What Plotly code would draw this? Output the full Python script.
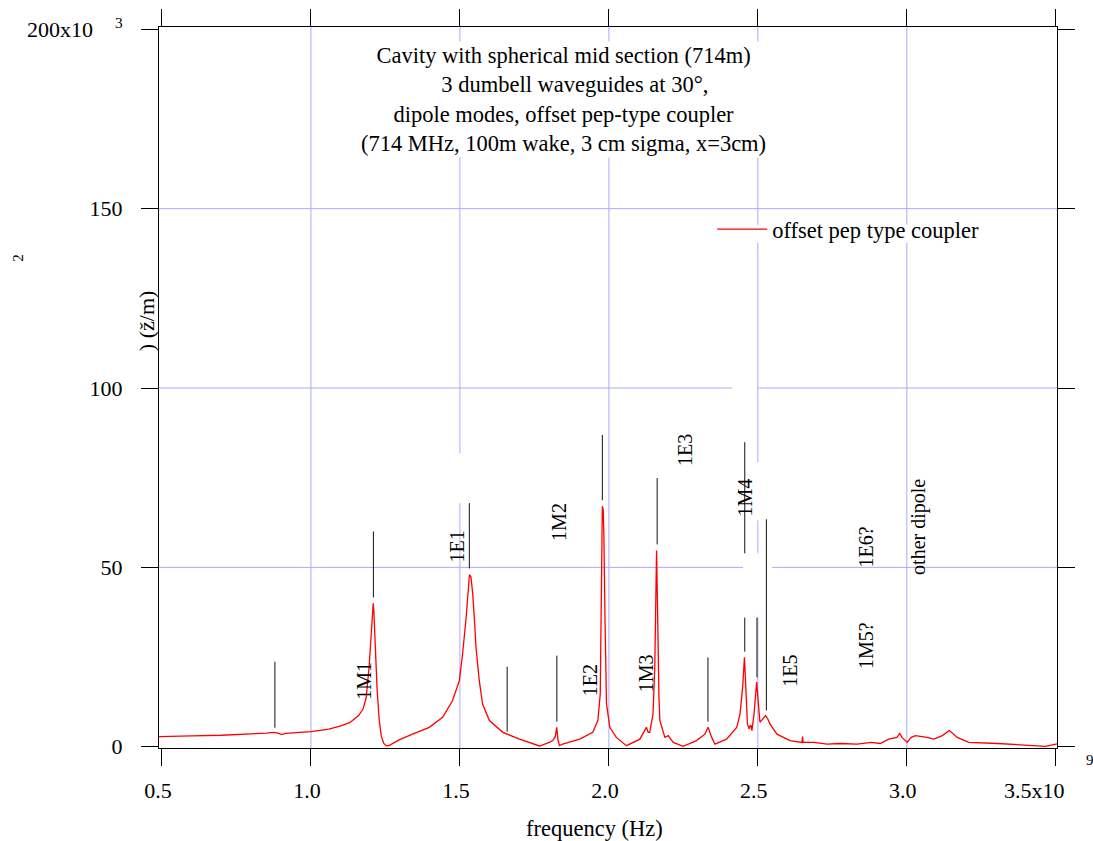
import plotly.graph_objects as go

# ---------------- data ----------------
freq_ghz = [0.49, 0.50, 0.60, 0.70, 0.79, 0.85, 0.876, 0.89, 0.901, 0.915, 0.95, 1.00, 1.06, 1.10,
            1.13, 1.16, 1.175, 1.185, 1.195, 1.200, 1.204, 1.207, 1.209, 1.211, 1.214, 1.218, 1.222,
            1.229, 1.236, 1.244, 1.252, 1.262, 1.275, 1.296, 1.341, 1.397, 1.442, 1.475, 1.498,
            1.509, 1.521, 1.528, 1.532, 1.537, 1.543, 1.549, 1.554, 1.565, 1.576, 1.599, 1.644,
            1.70, 1.767, 1.80, 1.812, 1.820, 1.825, 1.829, 1.834, 1.845, 1.902, 1.946, 1.963,
            1.971, 1.975, 1.978, 1.981, 1.983, 1.987, 1.992, 2.003, 2.025, 2.059, 2.104, 2.126,
            2.132, 2.137, 2.148, 2.154, 2.157, 2.160, 2.162, 2.165, 2.168, 2.171, 2.188, 2.199,
            2.216, 2.249, 2.294, 2.322, 2.333, 2.345, 2.356, 2.395, 2.429, 2.440, 2.449, 2.455,
            2.460, 2.465, 2.471, 2.474, 2.477, 2.480, 2.487, 2.491, 2.496, 2.501, 2.507, 2.516,
            2.526, 2.533, 2.541, 2.564, 2.608, 2.648, 2.650, 2.652, 2.687, 2.732, 2.777, 2.833,
            2.881, 2.911, 2.939, 2.967, 2.976, 2.984, 3.001, 3.015, 3.029, 3.068, 3.091, 3.119,
            3.143, 3.169, 3.208, 3.304, 3.382, 3.466, 3.500, 3.504]
impedance_k = [2.8, 2.8, 3.0, 3.2, 3.5, 3.8, 4.0, 3.8, 3.4, 3.7, 3.9, 4.2, 4.9, 5.8,
               6.7, 8.7, 10.5, 13.5, 22.0, 29.0, 35.2, 38.5, 40.0, 38.0, 31.5, 23.0, 16.0,
               7.5, 3.0, 1.0, 0.3, 0.3, 1.0, 1.9, 3.5, 5.4, 8.2, 12.8, 18.4,
               25.9, 36.1, 43.5, 48.0, 47.3, 42.6, 35.0, 27.7, 18.4, 11.9, 7.3, 4.0,
               2.1, 0.2, 1.2, 1.7, 2.8, 5.4, 2.0, 0.3, 0.7, 2.1, 4.0, 7.3,
               14.7, 44.5, 67.0, 66.0, 60.0, 35.2, 12.0, 5.4, 2.6, 0.3, 2.1, 5.4,
               4.0, 4.0, 9.1, 22.0, 35.2, 54.7, 45.0, 26.0, 14.0, 7.3, 2.6, 3.1,
               1.2, 0.1, 1.7, 3.5, 5.4, 2.6, 0.7, 2.1, 5.4, 9.1, 16.6, 24.9,
               16.6, 6.3, 4.9, 5.9, 5.9, 4.5, 9.0, 12.8, 18.0, 12.8, 6.8, 7.7,
               8.7, 7.8, 6.3, 3.5, 1.7, 1.2, 2.8, 1.2, 1.2, 0.7, 0.9, 0.7,
               1.2, 0.9, 2.1, 2.6, 3.7, 2.6, 1.2, 2.6, 3.1, 2.6, 2.1, 3.1,
               4.5, 2.6, 1.2, 0.9, 0.6, 0.1, 0.7, 0.8]

# mode marker segments (x, bottom, top) in 10^3 units
marker_x = [0.879, 1.2096, 1.5316, 1.6585, 1.8254, 1.978, 2.162, 2.3325, 2.456, 2.456, 2.497, 2.5286]
marker_y0 = [5.3, 41.6, 49.7, 4.2, 7.0, 68.7, 56.4, 7.0, 53.9, 26.5, 19.3, 10.1]
marker_y1 = [23.7, 60.0, 67.9, 22.3, 25.4, 86.9, 74.9, 24.9, 84.9, 36.0, 36.0, 63.4]

# mode labels
mode_labels = ["1M1", "1E1", "1M2", "1E2", "1M3", "1E3", "1M4", "1E5", "1E6?", "1M5?", "other dipole"]
label_x = [1.178, 1.491, 1.834, 1.935, 2.124, 2.255, 2.457, 2.608, 2.864, 2.861, 3.039]
label_y = [18.4, 55.9, 62.8, 18.4, 20.4, 82.7, 69.5, 21.2, 55.6, 28.2, 61.4]

x_tickvals = [0.5, 1.0, 1.5, 2.0, 2.5, 3.0, 3.5]
x_ticktext = ["0.5", "1.0", "1.5", "2.0", "2.5", "3.0", ""]
x_last_label = "3.5x10"
x_exponent = "9"
y_tickvals = [0, 50, 100, 150, 200]
y_ticktext = ["0", "50", "100", "150", "200x10\u2003<sup>3</sup>"]
x_grid = [1.0, 1.5, 2.0, 2.5, 3.0]
y_grid = [50, 100, 150]

title_lines = ["Cavity with spherical mid section (714m)",
               "\u00a0\u00a0\u00a0\u00a03 dumbell waveguides at 30°,",
               "dipole modes, offset pep-type coupler",
               "(714 MHz, 100m wake, 3 cm sigma, x=3cm)"]

FONT = "Liberation Serif"
GRID = "rgb(170,170,255)"
XR = [0.49, 3.504]
YR = [-0.36, 200.64]

fig = go.Figure()

# grid lines as background shapes
shapes = []
for gx in x_grid:
    shapes.append(dict(type="line", xref="x", yref="y", x0=gx, x1=gx, y0=YR[0], y1=YR[1],
                       line=dict(color=GRID, width=1), layer="below"))
for gy in y_grid:
    shapes.append(dict(type="line", xref="x", yref="y", x0=XR[0], x1=XR[1], y0=gy, y1=gy,
                       line=dict(color=GRID, width=1), layer="below"))
# white boxes behind tags / legend text interrupting the grid
gaps = [(1.49, 1.51, 67.9, 81.8), (2.413, 2.497, 98.5, 101.5), (2.49, 2.51, 63.1, 79.3),
        (2.49, 2.51, 36.0, 53.9), (2.450, 2.548, 48.5, 51.5),
        (2.49, 2.51, 140.5, 145.5), (2.99, 3.01, 140.5, 145.5)]
for (a, b, c, d) in gaps:
    shapes.append(dict(type="rect", xref="x", yref="y", x0=a, x1=b, y0=c, y1=d,
                       fillcolor="white", line=dict(width=0), layer="below"))

# marker segments
mx, my = [], []
for x, a, b in zip(marker_x, marker_y0, marker_y1):
    mx += [x, x, None]
    my += [a, b, None]
fig.add_trace(go.Scatter(x=mx, y=my, mode="lines", line=dict(color="#111111", width=1),
                         showlegend=False, hoverinfo="skip"))

fig.add_trace(go.Scatter(x=freq_ghz, y=impedance_k, mode="lines",
                         line=dict(color="#ff0000", width=1.3),
                         name="offset pep type coupler"))

annotations = []
for t, x, y in zip(mode_labels, label_x, label_y):
    annotations.append(dict(text=t, x=x, y=y, xref="x", yref="y", showarrow=False,
                            textangle=-90, font=dict(family=FONT, size=20, color="black"),
                            xanchor="center", yanchor="middle"))

annotations.append(dict(text="<br>".join(title_lines), x=0.450, y=0.900, xref="paper", yref="paper",
                        showarrow=False, align="center", bgcolor="white",
                        font=dict(family=FONT, size=22.5, color="black"),
                        xanchor="center", yanchor="middle"))
annotations.append(dict(text=") (ž/m)", x=-0.0145, y=0.592, xref="paper", yref="paper",
                        showarrow=False, textangle=-90, font=dict(family=FONT, size=22, color="black"),
                        xanchor="center", yanchor="middle"))
annotations.append(dict(text="2", x=-0.157, y=0.680, xref="paper", yref="paper",
                        showarrow=False, textangle=-90, font=dict(family=FONT, size=15, color="black"),
                        xanchor="center", yanchor="middle"))
annotations.append(dict(text="frequency (Hz)", x=0.485, y=-0.111, xref="paper", yref="paper",
                        showarrow=False, font=dict(family=FONT, size=22.5, color="black"),
                        xanchor="center", yanchor="middle"))
# last x tick label with its exponent
annotations.append(dict(text=x_last_label, x=0.9744, y=-0.0583, xref="paper", yref="paper",
                        showarrow=False, font=dict(family=FONT, size=22, color="black"),
                        xanchor="center", yanchor="middle"))
annotations.append(dict(text=x_exponent, x=1.0367, y=-0.0166, xref="paper", yref="paper",
                        showarrow=False, font=dict(family=FONT, size=15, color="black"),
                        xanchor="center", yanchor="middle"))

axis_common = dict(ticks="outside", ticklen=17, tickwidth=1, tickcolor="black",
                   showline=True, linecolor="black", linewidth=1, mirror="ticks",
                   showgrid=False, zeroline=False, automargin=False,
                   tickfont=dict(family=FONT, size=22, color="black"))

fig.update_layout(
    width=1093, height=841, autosize=False,
    margin=dict(l=159, r=36, t=27, b=93, autoexpand=False),
    paper_bgcolor="white", plot_bgcolor="white",
    xaxis=dict(range=XR, tickvals=x_tickvals, ticktext=x_ticktext,
               ticklabelstandoff=6, ticklabelshift=-4, **axis_common),
    yaxis=dict(range=YR, tickvals=y_tickvals, ticktext=y_ticktext,
               ticklabelstandoff=14, **axis_common),
    shapes=shapes,
    annotations=annotations,
    showlegend=True,
    legend=dict(x=0.616, y=0.749, xanchor="left", yanchor="top", bgcolor="rgba(0,0,0,0)",
                itemwidth=50,
                font=dict(family=FONT, size=22.5, color="black"), borderwidth=0),
    font=dict(family=FONT, color="black"),
)

fig.write_html("out.html")
